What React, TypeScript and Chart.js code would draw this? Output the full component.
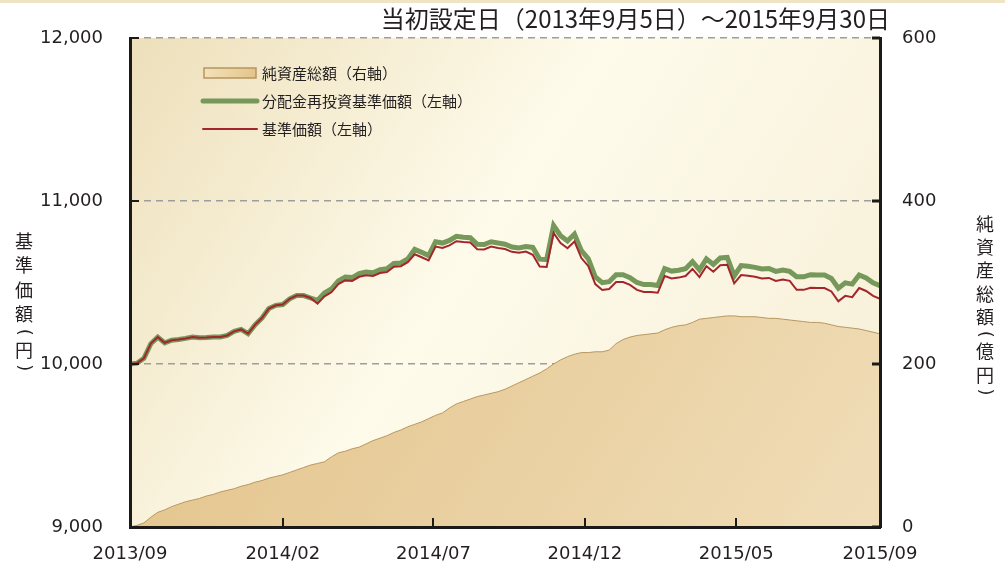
import React, { useEffect, useRef } from "react";
import { Chart, registerables } from "chart.js";
Chart.register(...registerables);

const TITLE = "当初設定日（2013年9月5日）～2015年9月30日";
const LEFT_TITLE = "基準価額(円)";
const RIGHT_TITLE = "純資産総額(億円)";
const LABEL_NAV = "純資産総額（右軸）";
const LABEL_REINV = "分配金再投資基準価額（左軸）";
const LABEL_PRICE = "基準価額（左軸）";

// weekly observations from 2013/09/05 to 2015/09/30 (index = week number)
const X_TICK_POS = [0, 22, 43.7, 65.5, 87.3, 108];
const X_TICK_LABELS = ["2013/09", "2014/02", "2014/07", "2014/12", "2015/05", "2015/09"];

const PRICE = [
  10000, 10005, 10035, 10125, 10165, 10130, 10146, 10150, 10157, 10166,
  10161, 10163, 10166, 10166, 10175, 10200, 10212, 10186, 10240, 10282,
  10340, 10360, 10365, 10400, 10420, 10420, 10405, 10370, 10415, 10440,
  10490, 10513, 10510, 10535, 10544, 10540, 10558, 10564, 10597, 10600,
  10625, 10673, 10655, 10635, 10720, 10712, 10728, 10753, 10748, 10745,
  10704, 10703, 10720, 10712, 10705, 10688, 10682, 10690, 10670, 10598,
  10595, 10804, 10742, 10710, 10752, 10650, 10600, 10490, 10454, 10460,
  10503, 10503, 10485, 10455, 10442, 10442, 10437, 10540, 10525, 10530,
  10540, 10583, 10533, 10600, 10566, 10606, 10609, 10495, 10546, 10542,
  10535, 10525, 10528, 10510, 10518, 10510, 10455, 10455, 10468, 10466,
  10466, 10445, 10385, 10418, 10410, 10466, 10448, 10418, 10400,
];

const REINVESTED = [
  10000, 10005, 10035, 10125, 10165, 10130, 10146, 10150, 10157, 10166,
  10161, 10163, 10166, 10166, 10175, 10200, 10212, 10186, 10240, 10282,
  10340, 10360, 10365, 10400, 10420, 10420, 10405, 10390, 10435, 10460,
  10510, 10533, 10530, 10555, 10564, 10560, 10578, 10584, 10617, 10620,
  10645, 10703, 10685, 10665, 10750, 10742, 10758, 10783, 10778, 10775,
  10734, 10733, 10750, 10742, 10735, 10718, 10712, 10720, 10715, 10643,
  10640, 10849, 10787, 10755, 10797, 10695, 10645, 10535, 10499, 10505,
  10548, 10548, 10530, 10500, 10487, 10487, 10482, 10585, 10570, 10575,
  10585, 10628, 10578, 10645, 10611, 10651, 10654, 10540, 10604, 10600,
  10593, 10583, 10586, 10568, 10576, 10568, 10535, 10535, 10548, 10546,
  10546, 10525, 10465, 10498, 10490, 10546, 10528, 10498, 10480,
];

const NET_ASSETS = [
  0, 2, 5, 12, 18, 21, 25, 28, 31, 33,
  35, 38, 40, 43, 45, 47, 50, 52, 55, 57,
  60, 62, 64, 67, 70, 73, 76, 78, 80, 86,
  91, 93, 96, 98, 102, 106, 109, 112, 116, 119,
  123, 126, 129, 133, 137, 140, 146, 151, 154, 157,
  160, 162, 164, 166, 169, 173, 177, 181, 185, 189,
  194, 200, 205, 209, 212, 214, 214, 215, 215, 217,
  225, 230, 233, 235, 236, 237, 238, 242, 245, 247,
  248, 251, 255, 256, 257, 258, 259, 259, 258, 258,
  258, 257, 256, 256, 255, 254, 253, 252, 251, 251,
  250, 248, 246, 245, 244, 243, 241, 239, 237,
];

const GREEN = "#76985a";
const RED = "#a3262c";
const AXIS = "#1c1a18";
const TEXT = "#231f20";
const LATIN = "'DejaVu Sans', Verdana, sans-serif";
const CJK = "'Noto Sans CJK JP', 'Noto Sans', sans-serif";

function drawVertical(ctx: CanvasRenderingContext2D, text: string, cx: number, startY: number, full: number, paren: number, size: number) {
  const chars = Array.from(text);
  let y = startY;
  const isParen = (c: string) => c === "(" || c === ")";
  chars.forEach((c, i) => {
    if (i > 0) {
      const hPrev = isParen(chars[i - 1]) ? paren : full;
      const hCur = isParen(c) ? paren : full;
      y += (hPrev + hCur) / 2;
    }
    if (isParen(c)) {
      ctx.save();
      ctx.translate(cx, y);
      ctx.rotate(Math.PI / 2);
      ctx.font = `${size}px ${LATIN}`;
      ctx.fillText(c, 0, 0);
      ctx.restore();
    } else {
      ctx.fillText(c, cx, y);
    }
  });
}

const backgroundPlugin = {
  id: "bgPlugin",
  beforeDraw(chart: any) {
    const { ctx, chartArea: a, width, height } = chart;
    ctx.save();
    ctx.fillStyle = "#ffffff";
    ctx.fillRect(0, 0, width, height);
    ctx.fillStyle = "#efe5c4";
    ctx.fillRect(0, 0, width, 3);
    const g = ctx.createLinearGradient(a.left, a.top, a.right, a.bottom);
    g.addColorStop(0, "#eddfba");
    g.addColorStop(0.45, "#fefbeb");
    g.addColorStop(1, "#f6eed6");
    ctx.fillStyle = g;
    ctx.fillRect(a.left, a.top, a.right - a.left, a.bottom - a.top);
    ctx.restore();
  },
};

const overlayPlugin = {
  id: "overlayPlugin",
  afterDraw(chart: any) {
    const { ctx, chartArea: a, scales } = chart;
    ctx.save();
    // inner tick marks
    ctx.strokeStyle = AXIS;
    ctx.lineWidth = 2;
    scales.y.ticks.forEach((t: any) => {
      const y = Math.round(scales.y.getPixelForValue(t.value));
      ctx.beginPath();
      ctx.moveTo(a.left, y);
      ctx.lineTo(a.left + 9, y);
      ctx.stroke();
    });
    ctx.lineWidth = 3;
    scales.y2.ticks.forEach((t: any) => {
      const y = Math.round(scales.y2.getPixelForValue(t.value));
      ctx.beginPath();
      ctx.moveTo(a.right - 8, y);
      ctx.lineTo(a.right, y);
      ctx.stroke();
    });
    ctx.lineWidth = 2;
    X_TICK_POS.forEach((v) => {
      const x = Math.round(scales.x.getPixelForValue(v));
      ctx.beginPath();
      ctx.moveTo(x, a.bottom);
      ctx.lineTo(x, a.bottom - 9);
      ctx.stroke();
    });

    // legend inside plot
    const ds = chart.data.datasets;
    const order = [2, 1, 0];
    const lx = a.left + 74;
    order.forEach((di, row) => {
      const d = ds[di];
      const cy = a.top + 35 + row * 28;
      if (d.fill) {
        const g = ctx.createLinearGradient(lx, cy - 5, lx + 52, cy + 5);
        g.addColorStop(0, "#f4e2bb");
        g.addColorStop(1, "#e3c489");
        ctx.fillStyle = g;
        ctx.fillRect(lx, cy - 5, 52, 10);
        ctx.strokeStyle = "#b8955f";
        ctx.lineWidth = 1.5;
        ctx.strokeRect(lx, cy - 5, 52, 10);
      } else {
        ctx.strokeStyle = d.borderColor;
        ctx.lineWidth = d.borderWidth;
        ctx.lineCap = "round";
        ctx.beginPath();
        ctx.moveTo(lx - 1, cy);
        ctx.lineTo(lx + 53, cy);
        ctx.stroke();
        ctx.lineCap = "butt";
      }
      ctx.fillStyle = TEXT;
      ctx.font = `15px ${CJK}`;
      ctx.textAlign = "left";
      ctx.textBaseline = "middle";
      ctx.fillText(d.label, lx + 58, cy);
    });

    // title
    ctx.fillStyle = TEXT;
    ctx.font = `24px ${CJK}`;
    ctx.textAlign = "right";
    ctx.textBaseline = "middle";
    ctx.fillText(TITLE, a.right + 10, 19);

    // vertical axis titles
    ctx.font = `18px ${CJK}`;
    ctx.textAlign = "center";
    ctx.textBaseline = "middle";
    drawVertical(ctx, LEFT_TITLE, 24, 241, 24.5, 11, 18);
    ctx.font = `18px ${CJK}`;
    drawVertical(ctx, RIGHT_TITLE, 985, 224, 23.3, 11, 18);
    ctx.restore();
  },
};

export default function App() {
  const ref = useRef<HTMLCanvasElement | null>(null);
  useEffect(() => {
    if (!ref.current) return;
    const toPts = (arr: number[]) => arr.map((v, i) => ({ x: i, y: v }));
    const chart = new Chart(ref.current, {
      type: "line",
      data: {
        datasets: [
          {
            label: LABEL_PRICE,
            data: toPts(PRICE),
            yAxisID: "y",
            borderColor: RED,
            borderWidth: 2,
            pointRadius: 0,
            tension: 0,
            fill: false,
            order: 1,
          },
          {
            label: LABEL_REINV,
            data: toPts(REINVESTED),
            yAxisID: "y",
            borderColor: GREEN,
            borderWidth: 5,
            pointRadius: 0,
            tension: 0,
            fill: false,
            order: 2,
          },
          {
            label: LABEL_NAV,
            data: toPts(NET_ASSETS),
            yAxisID: "y2",
            borderColor: "#b99760",
            borderWidth: 1,
            pointRadius: 0,
            tension: 0,
            fill: "origin",
            order: 3,
            backgroundColor: (c: any) => {
              const a = c.chart.chartArea;
              if (!a) return "#e6c992";
              const g = c.chart.ctx.createLinearGradient(a.left, a.top, a.right, a.bottom);
              g.addColorStop(0, "#e0bd80");
              g.addColorStop(1, "#f0ddb8");
              return g;
            },
          } as any,
        ],
      },
      options: {
        animation: false,
        responsive: false,
        devicePixelRatio: 1,
        layout: { padding: { top: 38, left: 0, right: 0, bottom: 0 } },
        plugins: {
          legend: { display: false },
          tooltip: { enabled: false },
          title: { display: false },
        },
        scales: {
          x: {
            type: "linear",
            min: 0,
            max: 108,
            grid: { display: false, drawTicks: false },
            border: { display: true, color: AXIS, width: 3, z: 1 },
            afterBuildTicks: (s: any) => {
              s.ticks = X_TICK_POS.map((v) => ({ value: v }));
            },
            afterFit: (s: any) => {
              s.height = 43;
            },
            ticks: {
              autoSkip: false,
              maxRotation: 0,
              minRotation: 0,
              padding: 17,
              color: TEXT,
              font: { family: LATIN, size: 18 },
              callback: (_v: any, i: number) => X_TICK_LABELS[i],
            },
          },
          y: {
            position: "left",
            min: 9000,
            max: 12000,
            grid: { color: "#9d9d9d", lineWidth: 1.5, drawTicks: false },
            border: { display: true, color: AXIS, width: 3, z: 1, dash: [7, 5] },
            afterFit: (s: any) => {
              s.width = 130;
            },
            ticks: {
              stepSize: 1000,
              padding: 27,
              color: TEXT,
              font: { family: LATIN, size: 18 },
              callback: (v: any) => Number(v).toLocaleString("en-US"),
            },
          },
          y2: {
            position: "right",
            min: 0,
            max: 600,
            grid: { display: false, drawTicks: false },
            border: { display: true, color: AXIS, width: 3, z: 1 },
            afterFit: (s: any) => {
              s.width = 125;
            },
            ticks: {
              stepSize: 200,
              padding: 22,
              color: TEXT,
              font: { family: LATIN, size: 18 },
            },
          },
        },
      } as any,
      plugins: [backgroundPlugin, overlayPlugin],
    });
    return () => chart.destroy();
  }, []);

  return (
    <div style={{ position: "fixed", left: 0, top: 0, width: 1005, height: 570 }}>
      <canvas ref={ref} width={1005} height={570} style={{ display: "block" }} />
    </div>
  );
}
